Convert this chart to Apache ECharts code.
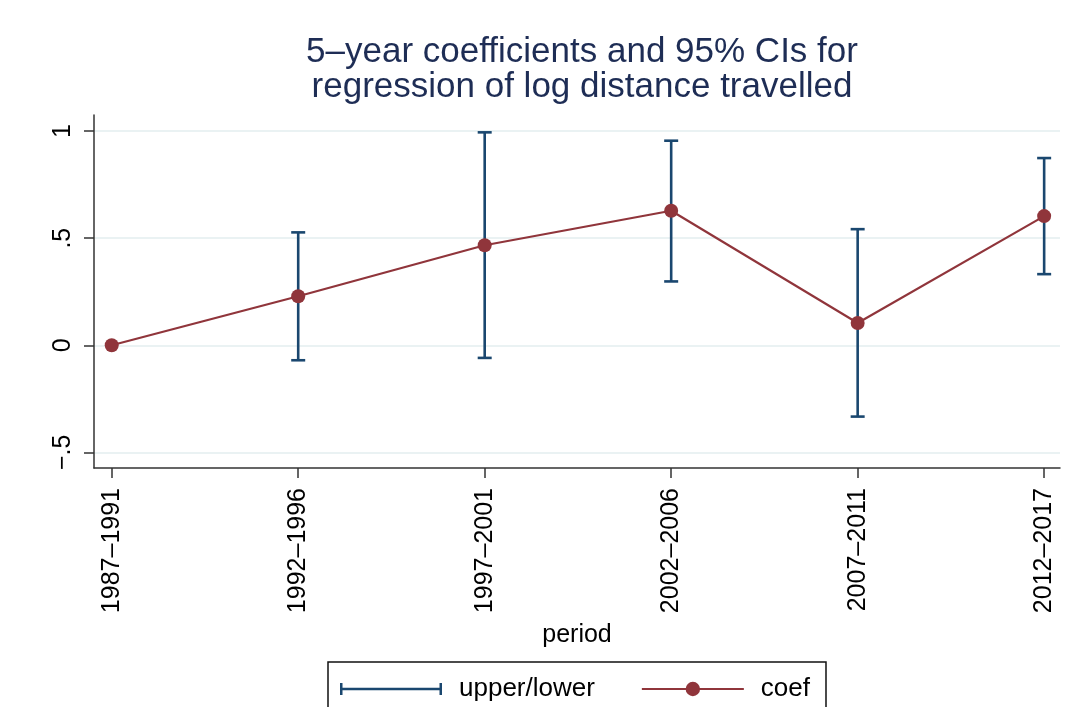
<!DOCTYPE html>
<html>
<head>
<meta charset="utf-8">
<script src="https://cdn.jsdelivr.net/npm/echarts@6/dist/echarts.min.js"></script>
<style>
  html, body { margin: 0; padding: 0; background: #fff; }
  #container { width: 1070px; height: 707px; }
</style>
</head>
<body>
<div id="container"></div>
<script>
var periods = ['1987–1991', '1992–1996', '1997–2001', '2002–2006', '2007–2011', '2012–2017'];
var coef  = [0, 0.229, 0.467, 0.628, 0.104, 0.603];
var upper = [null, 0.527, 0.994, 0.955, 0.542, 0.874];
var lower = [null, -0.070, -0.059, 0.298, -0.333, 0.332];
var yTicks = [-0.5, 0, 0.5, 1];
var yTickLabels = ['−.5', '0', '.5', '1'];

var dom = document.getElementById('container');
var myChart = echarts.init(dom);

var coefData = periods.map(function (p, i) { return [i, coef[i]]; });
var ciData = [];
periods.forEach(function (p, i) {
    if (upper[i] != null) ciData.push([i, lower[i], upper[i]]);
});

var navy = '#1a476f';
var maroon = '#90353b';
var font = 'Liberation Sans, Arial, Helvetica, sans-serif';

// error bar icon for the legend (tiny corner triangles just set the box size)
var barIcon = 'path://M0,0L0.1,0L0,0.1Z M0,18L0.1,18L0,17.9Z ' +
    'M0,3h2.5v12h-2.5z M0,7.8h102v2.5h-102z M99.5,3h2.5v12h-2.5z';

var option = {
    backgroundColor: '#fff',
    animation: false,
    title: {
        text: '5–year coefficients and 95% CIs for\nregression of log distance travelled',
        left: 577,
        top: 30,
        textAlign: 'center',
        textStyle: {
            color: '#1e2d55',
            fontFamily: font,
            fontWeight: 'normal',
            fontSize: 35,
            lineHeight: 35
        }
    },
    legend: {
        left: 328,
        top: 662,
        padding: [14, 16, 30, 12],
        borderColor: '#111',
        borderWidth: 1.5,
        borderRadius: 0,
        itemWidth: 102,
        itemHeight: 18,
        itemGap: 46,
        textStyle: {
            color: '#000',
            fontFamily: font,
            fontSize: 26,
            padding: [0, 0, 0, 12]
        },
        data: [
            { name: 'upper/lower', icon: barIcon },
            { name: 'coef' }
        ]
    },
    grid: {
        left: 94,
        right: 10,
        top: 115,
        bottom: 239
    },
    xAxis: {
        type: 'value',
        min: -0.095,
        max: 5.085,
        name: 'period',
        nameLocation: 'middle',
        nameGap: 155,
        nameTextStyle: { color: '#000', fontFamily: font, fontSize: 25 },
        axisLine: { show: true, onZero: false, lineStyle: { color: '#333', width: 1.5 } },
        axisTick: { show: true, length: 10, customValues: [0, 1, 2, 3, 4, 5], lineStyle: { color: '#333', width: 1.5 } },
        axisLabel: {
            customValues: [0, 1, 2, 3, 4, 5],
            rotate: 90,
            margin: 20,
            color: '#000',
            fontFamily: font,
            fontSize: 25,
            formatter: function (v) { return periods[Math.round(v)]; }
        },
        splitLine: { show: false }
    },
    yAxis: {
        type: 'value',
        min: -0.573,
        max: 1.075,
        axisLine: { show: true, onZero: false, lineStyle: { color: '#333', width: 1.5 } },
        axisTick: { show: true, length: 10, customValues: yTicks, lineStyle: { color: '#333', width: 1.5 } },
        axisLabel: {
            customValues: yTicks,
            rotate: 90,
            margin: 18,
            color: '#000',
            fontFamily: font,
            fontSize: 25,
            formatter: function (v) {
                var k = yTicks.indexOf(Math.round(v * 2) / 2);
                return k >= 0 ? yTickLabels[k] : '';
            }
        },
        splitLine: { show: true, lineStyle: { color: '#eaf2f3', width: 2 } }
    },
    series: [
        {
            name: 'upper/lower',
            type: 'custom',
            itemStyle: { color: navy },
            data: ciData,
            encode: { x: 0, y: [1, 2] },
            renderItem: function (params, api) {
                var x = api.value(0);
                var lo = api.coord([x, api.value(1)]);
                var hi = api.coord([x, api.value(2)]);
                var hw = 7;
                var st = { stroke: navy, lineWidth: 2.6 };
                return {
                    type: 'group',
                    children: [
                        { type: 'line', shape: { x1: lo[0], y1: lo[1], x2: hi[0], y2: hi[1] }, style: st },
                        { type: 'line', shape: { x1: hi[0] - hw, y1: hi[1], x2: hi[0] + hw, y2: hi[1] }, style: st },
                        { type: 'line', shape: { x1: lo[0] - hw, y1: lo[1], x2: lo[0] + hw, y2: lo[1] }, style: st }
                    ]
                };
            },
            z: 2
        },
        {
            name: 'coef',
            type: 'line',
            data: coefData,
            symbol: 'circle',
            symbolSize: 14,
            itemStyle: { color: maroon },
            lineStyle: { color: maroon, width: 2.2 },
            z: 3
        }
    ]
};

myChart.setOption(option, true);
window.onresize = function () {
    myChart.resize();
};
</script>
</body>
</html>
